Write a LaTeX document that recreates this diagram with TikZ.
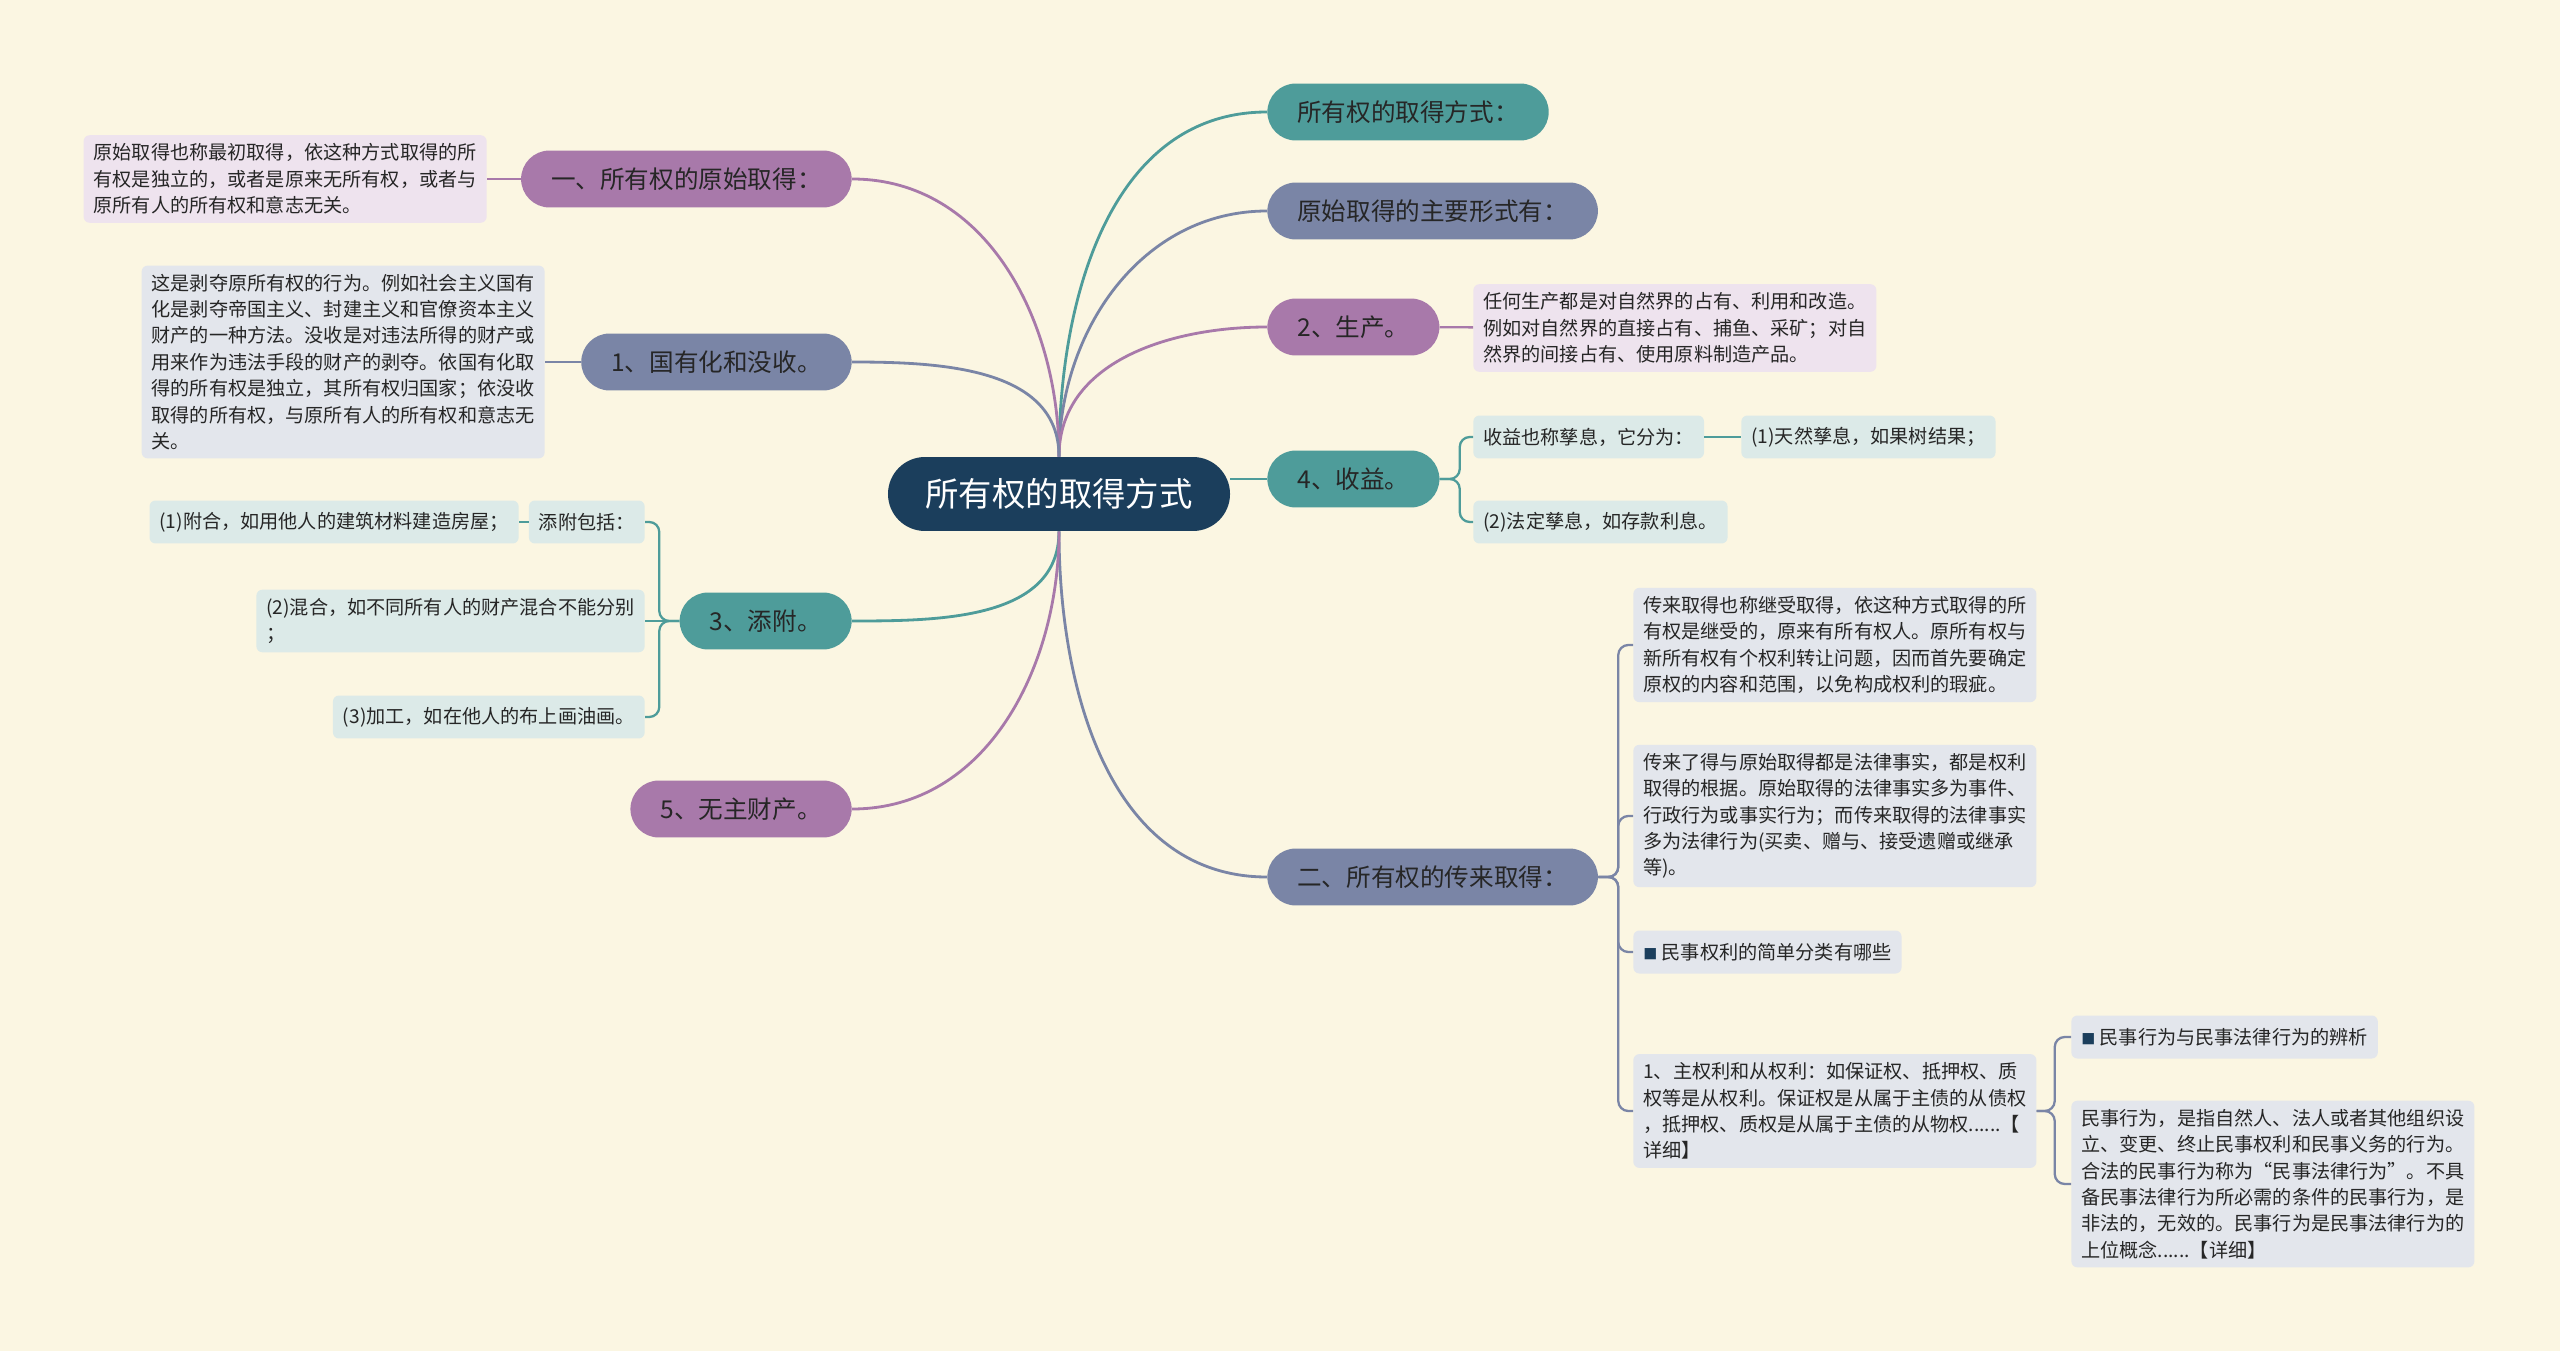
\documentclass[tikz,border=0pt]{standalone}
\usepackage{fontspec}
\setmainfont{Noto Sans CJK SC}
\usepackage{tikz}
\usetikzlibrary{positioning}
\definecolor{fondo}{HTML}{FBF6E2}
\definecolor{azul}{HTML}{1B3E5C}
\definecolor{verde}{HTML}{4E9C9A}
\definecolor{morado}{HTML}{A879AA}
\definecolor{pizarra}{HTML}{7A85A6}
\definecolor{verdeclaro}{HTML}{DCEAE8}
\definecolor{moradoclaro}{HTML}{EEE3EE}
\definecolor{pizarraclaro}{HTML}{E3E6EC}
\newcommand{\cuadro}{{\fontsize{8}{8}\selectfont\color{azul}■}}

\begin{document}
\begin{tikzpicture}[
  x=0.02cm, y=-0.02cm,
  tronco/.style={rectangle, rounded corners=0.74cm, fill=azul, text=white, minimum height=1.48cm, inner xsep=0.75cm, font=\fontsize{19}{22}\selectfont},
  rama/.style={rectangle, rounded corners=0.57cm, fill=#1, text=black!85, minimum height=1.14cm, inner xsep=0.6cm, font=\fontsize{14}{16}\selectfont},
  hoja/.style={rectangle, rounded corners=0.12cm, fill=#1, text=black!85, minimum height=0.86cm, inner xsep=0.2cm, inner ysep=0.17cm, align=left, font=\fontsize{10.9}{15}\selectfont},
  linea/.style={draw=#1, line width=1.6pt},
  enlace/.style={draw=#1, line width=1.3pt, rounded corners=0.2cm}
]
\fill[fondo] (0,0) rectangle (2560,1351);
\useasboundingbox (0,0) rectangle (2560,1351);

\node[tronco] (raiz) at (1059,494) {所有权的取得方式};

% lado derecho
\node[rama=verde, anchor=west] (r1) at (1267,112) {所有权的取得方式：};
\node[rama=pizarra, anchor=west] (r2) at (1267,211) {原始取得的主要形式有：};
\node[rama=morado, anchor=west] (r3) at (1267,327) {2、生产。};
\node[hoja=moradoclaro, anchor=west] (r3t) at (1473,328) {任何生产都是对自然界的占有、利用和改造。\\例如对自然界的直接占有、捕鱼、采矿；对自\\然界的间接占有、使用原料制造产品。};
\node[rama=verde, anchor=west] (r4) at (1267,479) {4、收益。};
\node[hoja=verdeclaro, anchor=west] (r4a) at (1473,437) {收益也称孳息，它分为：};
\node[hoja=verdeclaro, anchor=west] (r4a1) at (1741,437) {(1)天然孳息，如果树结果；};
\node[hoja=verdeclaro, anchor=west] (r4b) at (1473,522) {(2)法定孳息，如存款利息。};
\node[rama=pizarra, anchor=west] (r5) at (1267,877) {二、所有权的传来取得：};
\node[hoja=pizarraclaro, anchor=west] (r5a) at (1633,645) {传来取得也称继受取得，依这种方式取得的所\\有权是继受的，原来有所有权人。原所有权与\\新所有权有个权利转让问题，因而首先要确定\\原权的内容和范围，以免构成权利的瑕疵。};
\node[hoja=pizarraclaro, anchor=west] (r5b) at (1633,816) {传来了得与原始取得都是法律事实，都是权利\\取得的根据。原始取得的法律事实多为事件、\\行政行为或事实行为；而传来取得的法律事实\\多为法律行为(买卖、赠与、接受遗赠或继承\\等)。};
\node[hoja=pizarraclaro, anchor=west] (r5c) at (1633,952) {\cuadro\ 民事权利的简单分类有哪些};
\node[hoja=pizarraclaro, anchor=west] (r5d) at (1633,1111) {1、主权利和从权利：如保证权、抵押权、质\\权等是从权利。保证权是从属于主债的从债权\\，抵押权、质权是从属于主债的从物权......【\\详细】};
\node[hoja=pizarraclaro, anchor=west] (r5d1) at (2071,1037) {\cuadro\ 民事行为与民事法律行为的辨析};
\node[hoja=pizarraclaro, anchor=west] (r5d2) at (2071,1184) {民事行为，是指自然人、法人或者其他组织设\\立、变更、终止民事权利和民事义务的行为。\\合法的民事行为称为“民事法律行为”。不具\\备民事法律行为所必需的条件的民事行为，是\\非法的，无效的。民事行为是民事法律行为的\\上位概念......【详细】};

% lado izquierdo
\node[rama=morado, anchor=east] (l1) at (852,179) {一、所有权的原始取得：};
\node[hoja=moradoclaro, anchor=east] (l1t) at (487,179) {原始取得也称最初取得，依这种方式取得的所\\有权是独立的，或者是原来无所有权，或者与\\原所有人的所有权和意志无关。};
\node[rama=pizarra, anchor=east] (l2) at (852,362) {1、国有化和没收。};
\node[hoja=pizarraclaro, anchor=east] (l2t) at (545,362) {这是剥夺原所有权的行为。例如社会主义国有\\化是剥夺帝国主义、封建主义和官僚资本主义\\财产的一种方法。没收是对违法所得的财产或\\用来作为违法手段的财产的剥夺。依国有化取\\得的所有权是独立，其所有权归国家；依没收\\取得的所有权，与原所有人的所有权和意志无\\关。};
\node[rama=verde, anchor=east] (l3) at (852,621) {3、添附。};
\node[hoja=verdeclaro, anchor=east] (l3a) at (645,522) {添附包括：};
\node[hoja=verdeclaro, anchor=east] (l3a1) at (519,522) {(1)附合，如用他人的建筑材料建造房屋；};
\node[hoja=verdeclaro, anchor=east] (l3b) at (645,621) {(2)混合，如不同所有人的财产混合不能分别\\；};
\node[hoja=verdeclaro, anchor=east] (l3c) at (645,717) {(3)加工，如在他人的布上画油画。};
\node[rama=morado, anchor=east] (l4) at (852,809) {5、无主财产。};

% ramas principales
\draw[linea=verde] (raiz.north) to[out=90, in=180] (r1.west);
\draw[linea=pizarra] (raiz.north) to[out=90, in=180] (r2.west);
\draw[linea=morado] (raiz.north) to[out=90, in=180] (r3.west);
\draw[linea=verde] (r4.west) -- (r4.west -| raiz.east);
\draw[linea=pizarra] (raiz.south) to[out=-90, in=180] (r5.west);
\draw[linea=morado] (raiz.north) to[out=90, in=0] (l1.east);
\draw[linea=pizarra] (raiz.north) to[out=90, in=0] (l2.east);
\draw[linea=verde] (raiz.south) to[out=-90, in=0] (l3.east);
\draw[linea=morado] (raiz.south) to[out=-90, in=0] (l4.east);

% hojas
\draw[enlace=morado] (r3) -- (r3t);
\draw[enlace=verde] (r4.east) -- ++(20,0) |- (r4a.west);
\draw[enlace=verde] (r4.east) -- ++(20,0) |- (r4b.west);
\draw[enlace=verde] (r4a) -- (r4a1);
\draw[enlace=pizarra] (r5.east) -- ++(20,0) |- (r5a.west);
\draw[enlace=pizarra] (r5.east) -- ++(20,0) |- (r5b.west);
\draw[enlace=pizarra] (r5.east) -- ++(20,0) |- (r5c.west);
\draw[enlace=pizarra] (r5.east) -- ++(20,0) |- (r5d.west);
\draw[enlace=pizarra] (r5d.east) -- ++(18,0) |- (r5d1.west);
\draw[enlace=pizarra] (r5d.east) -- ++(18,0) |- (r5d2.west);
\draw[enlace=morado] (l1) -- (l1t);
\draw[enlace=pizarra] (l2) -- (l2t);
\draw[enlace=verde] (l3.west) -- ++(-20,0) |- (l3a.east);
\draw[enlace=verde] (l3.west) -- (l3b.east);
\draw[enlace=verde] (l3.west) -- ++(-20,0) |- (l3c.east);
\draw[enlace=verde] (l3a) -- (l3a1);
\end{tikzpicture}
\end{document}
